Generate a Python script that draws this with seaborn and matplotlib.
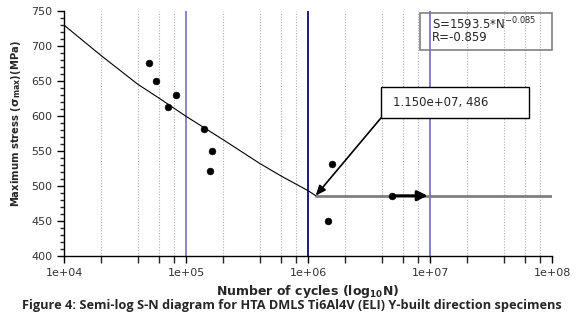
import matplotlib
matplotlib.use("Agg")
import matplotlib.pyplot as plt
from matplotlib.patches import Rectangle
import seaborn as sns
import numpy as np
import pandas as pd
from matplotlib.ticker import FixedLocator, NullFormatter, FuncFormatter

# ---- data ----
cycles = [4.98e4, 5.68e4, 7.1e4, 8.18e4, 1.40e5, 1.63e5, 1.55e5, 1.56e6, 1.44e6, 4.89e6]
stress = [676, 650, 613, 630, 581, 550, 521, 531, 450, 486]

fit_N = [1e4, 2e4, 4e4, 6e4, 1e5, 2e5, 4e5, 6e5, 1e6, 1.15e6]
fit_S = [729, 686, 645, 625, 599, 566, 532, 514, 493, 486]

knee_N = 1.15e6
knee_S = 486
runout_N = 4.89e6
runout_to = 1e7
endurance_to = 1e8

vlines = [1e5, 1e6, 1e7]
vline_colors = ["#8585d6", "#1a1a80", "#8080c4"]

equation_line1 = "S=1593.5*N$^{-0.085}$"
equation_line2 = "R=-0.859"
annot_text = "1.150e+07, 486"
xlabel = "Number of cycles (log$_{\\mathbf{10}}$N)"
ylabel = "Maximum stress ($\\mathbf{\\sigma_{max}}$)(MPa)"
caption = "Figure 4: Semi-log S-N diagram for HTA DMLS Ti6Al4V (ELI) Y-built direction specimens"

sns.set_style("white")
plt.rcParams['font.family'] = ['DejaVu Sans']

fig = plt.figure(figsize=(5.83, 3.22), dpi=100)
ax = fig.add_axes([0.1103, 0.205, 0.8370, 0.762])

ax.set_xscale("log")
ax.set_xlim(1e4, 1e8)
ax.set_ylim(400, 750)

# minor gridlines at 2,4,6,8 of each decade
minor = [m * 10**e for e in range(4, 8) for m in (2, 4, 6, 8)]
for v in minor:
    ax.axvline(v, color="#b0b0b0", lw=0.8, ls=(0, (1, 1.5)), zorder=0)
for v, c in zip(vlines, vline_colors):
    ax.axvline(v, color=c, lw=1.4, zorder=1)

# endurance line
ax.plot([knee_N, endurance_to], [knee_S, knee_S], color="#808080", lw=2, zorder=2)

# fit curve
sns.lineplot(x=fit_N, y=fit_S, ax=ax, color="black", lw=0.8, zorder=3)

# data points
df = pd.DataFrame({"N": cycles, "S": stress})
sns.scatterplot(data=df, x="N", y="S", ax=ax, color="black", s=24, edgecolor="black", zorder=5)

# runout arrow
ax.annotate("", xy=(runout_to, knee_S), xytext=(runout_N, knee_S),
            arrowprops=dict(arrowstyle="-|>,head_length=0.6,head_width=0.3", color="black", lw=2),
            zorder=6)

# knee annotation box (axes coords)
bx0, bx1, by0, by1 = 0.649, 0.952, 0.5626, 0.689
ax.add_patch(Rectangle((bx0, by0), bx1 - bx0, by1 - by0, transform=ax.transAxes,
                       fc="white", ec="black", lw=1, zorder=7))
ax.text(0.6736, (by0 + by1) / 2, annot_text, transform=ax.transAxes, fontsize=8.5,
        ha="left", va="center", zorder=8)
ax.annotate("", xy=(knee_N, knee_S), xytext=(bx0, by0), textcoords="axes fraction",
            arrowprops=dict(arrowstyle="-|>,head_length=0.6,head_width=0.25", color="black", lw=1.2,
                            shrinkA=0, shrinkB=0),
            zorder=7)

# equation box (no fill, lines show through)
ex0, ex1, ey0, ey1 = 0.729, 1.0, 0.84, 0.99
ax.add_patch(Rectangle((ex0, ey0), ex1 - ex0, ey1 - ey0, transform=ax.transAxes,
                       fc="none", ec="#808080", lw=1.2, zorder=8, clip_on=False))
ax.text(0.754, 0.946, equation_line1, transform=ax.transAxes, fontsize=8.5,
        ha="left", va="center", zorder=9)
ax.text(0.754, 0.889, equation_line2, transform=ax.transAxes, fontsize=8.5,
        ha="left", va="center", zorder=9)

# ticks
ax.xaxis.set_major_locator(FixedLocator([1e4, 1e5, 1e6, 1e7, 1e8]))
ax.xaxis.set_minor_locator(FixedLocator(minor))
ax.xaxis.set_minor_formatter(NullFormatter())
ax.xaxis.set_major_formatter(FuncFormatter(lambda v, p: "1e+%02d" % int(round(np.log10(v)))))
ax.yaxis.set_major_locator(FixedLocator(list(range(400, 751, 50))))
ax.yaxis.set_minor_locator(FixedLocator(list(range(400, 751, 10))))
ax.tick_params(axis="both", which="major", direction="out", length=5, width=1, labelsize=8, colors="black")
ax.tick_params(axis="x", which="minor", direction="out", length=5, width=1)
ax.tick_params(axis="y", which="minor", direction="out", length=3, width=1)
ax.tick_params(axis="x", which="both", bottom=True)
ax.tick_params(axis="y", which="both", left=True)
for lab in ax.get_xticklabels() + ax.get_yticklabels():
    lab.set_color("#333333")

for s in ["top", "right"]:
    ax.spines[s].set_visible(False)
for s in ["left", "bottom"]:
    ax.spines[s].set_color("black")
    ax.spines[s].set_linewidth(1)

ax.set_xlabel(xlabel, fontsize=9, fontweight="bold", labelpad=4)
ax.set_ylabel(ylabel, fontsize=8, fontweight="bold", labelpad=4, fontstretch="condensed")
ax.yaxis.set_label_coords(-0.085, 0.54)

fig.text(0.5, 0.052, caption, ha="center", va="center", fontsize=9.2, fontweight="bold",
         family=["Open Sans", "DejaVu Sans"])

fig.savefig("out.png", dpi=100)
